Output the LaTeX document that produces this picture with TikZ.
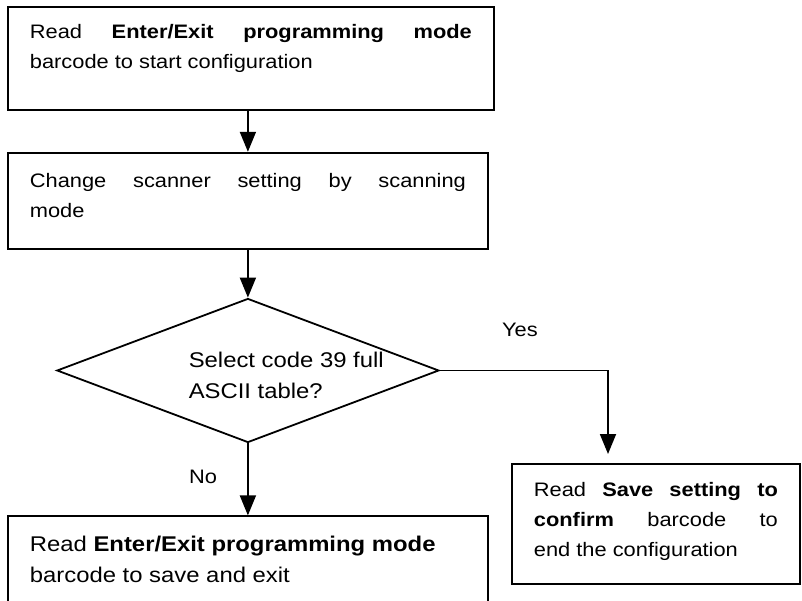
\documentclass[tikz,border=0pt]{standalone}
\usepackage{fontspec}
\setmainfont{Liberation Sans}[FakeStretch=1.12]
\usetikzlibrary{shapes.geometric,arrows.meta}
\usetikzlibrary{positioning,calc}

\begin{document}
\begin{tikzpicture}[x=1pt,y=-1pt,line width=1.8pt]
\tikzset{myFont/.style={font=\fontsize{19.5}{30}\selectfont}}
\tikzset{myBigFont/.style={font=\fontsize{21.3}{31}\selectfont}}
\tikzset{myBox/.style={draw,myFont,align=justify,inner xsep=22pt,inner ysep=0pt}}
\tikzset{myArrow/.style={-{Triangle[width=16pt,length=20pt]}}}
\tikzset{myLabel/.style={myFont,inner sep=0pt}}

\useasboundingbox (0,0) rectangle (802,601);
\clip (0,0) rectangle (802,601);

\node[myBox,text width=442pt,text height=32pt,text depth=71pt,anchor=north west] (start) at (7,6) {Read \textbf{Enter/Exit programming mode}\linebreak barcode to start configuration};
\node[myBox,text width=436pt,text height=35pt,text depth=61pt,below=41pt of start.south west,anchor=north west] (scan) {Change scanner setting by scanning\linebreak mode};
\node[draw,diamond,minimum width=382pt,minimum height=144pt,inner sep=0pt,below=48pt of scan.south] (choice) {};
\node[myBigFont,align=left,anchor=west,inner sep=0pt] (choiceText) at ([xshift=-60pt,yshift=-5pt]choice.center) {Select code 39 full\\ASCII table?};
\node[myBox,myBigFont,text width=436pt,text height=35pt,text depth=72pt,below=72pt of choice.south] (exit) {Read \textbf{Enter/Exit programming mode}\\barcode to save and exit};
\node[myBox,text width=244pt,text height=33pt,text depth=87pt,anchor=north west] (confirm) at (511,463) {Read \textbf{Save setting to}\linebreak \textbf{confirm} barcode to\linebreak end the configuration};
\coordinate (yesEnd) at (608,454);

\draw[myArrow] (start.south -| scan.north) -- (scan.north);
\draw[myArrow] (scan.south) -- (choice.north);
\draw[myArrow] (choice.south) -- node[myLabel,pos=0.47,left=30pt] (no) {No} (exit.north);
\draw[myArrow] (choice.east) -| node[myLabel,pos=0.25,above=33pt,xshift=-4pt] (yes) {Yes} (yesEnd);

\end{tikzpicture}
\end{document}
